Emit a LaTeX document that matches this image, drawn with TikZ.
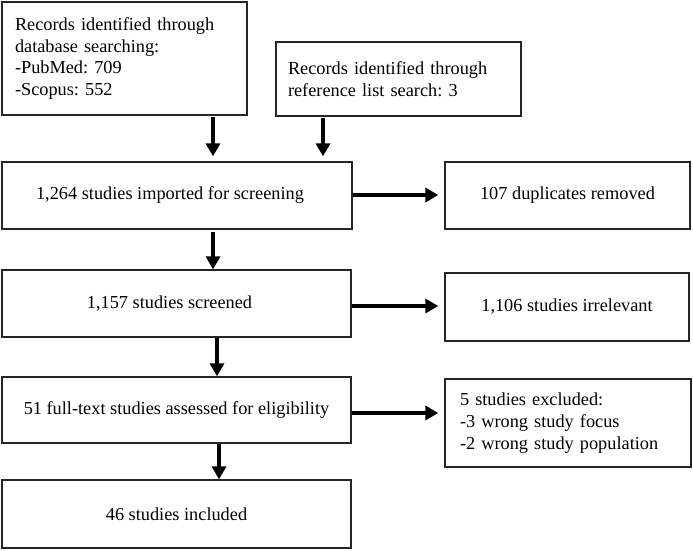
\documentclass[tikz,border=0pt]{standalone}
\usepackage{fontspec}
\setmainfont{Liberation Serif}
\usetikzlibrary{arrows.meta}
\frenchspacing
\begin{document}
\begin{tikzpicture}[x=1pt,y=-1pt,
  box/.style={draw=black!85, line width=1.3pt, rectangle, inner sep=0pt,
    font=\fontsize{18.3}{21.7}\selectfont},
  lbox/.style={box, align=left, inner xsep=13pt},
  arr/.style={line width=4.6pt, -{Triangle[width=14pt,length=13pt]}}]
\useasboundingbox (0,0) rectangle (693,551);
\node[lbox, minimum width=245pt, minimum height=113pt, text width=219pt] (b1) at (124.5,58.5)
  {Records identified through\\database searching:\\-PubMed: 709\\-Scopus: 552};
\node[lbox, minimum width=245pt, minimum height=74pt, text width=221pt, inner xsep=12pt] (b2) at (398.5,79)
  {Records identified through\\reference list search: 3};
\node[box, minimum width=350pt, minimum height=67pt] (b3) at (177,195.5)
  {1,264 studies imported for screening\hspace*{14pt}};
\node[box, minimum width=245pt, minimum height=67pt] (b4) at (567.5,195.5)
  {107 duplicates removed};
\node[box, minimum width=349pt, minimum height=67pt] (b5) at (176.5,303.5)
  {1,157 studies screened\hspace*{14pt}};
\node[box, minimum width=244pt, minimum height=68pt] (b6) at (567,307)
  {1,106 studies irrelevant};
\node[box, minimum width=349pt, minimum height=66pt] (b7) at (176.5,410)
  {51 full-text studies assessed for eligibility};
\node[lbox, minimum width=246pt, minimum height=88pt, text width=216pt, inner xsep=15pt] (b8) at (568,423)
  {5 studies excluded:\\-3 wrong study focus\\-2 wrong study population};
\node[box, minimum width=349pt, minimum height=68pt] (b9) at (176.5,514)
  {46 studies included};
\coordinate (xa) at (213,0);
\coordinate (xb) at (323,0);
\coordinate (xc) at (217,0);
\coordinate (xd) at (219,0);
\coordinate (ya) at (0,195);
\coordinate (yb) at (0,306);
\coordinate (yc) at (0,413);
\draw[arr, shorten <=1pt, shorten >=5pt] (b1.south -| xa) -- (b3.north -| xa);
\draw[arr, shorten <=1pt, shorten >=5pt] (b2.south -| xb) -- (b3.north -| xb);
\draw[arr, shorten >=6pt] (b3.east |- ya) -- (b4.west |- ya);
\draw[arr, shorten <=2pt] (b3.south -| xa) -- (b5.north -| xa);
\draw[arr, shorten >=6pt] (b5.east |- yb) -- (b6.west |- yb);
\draw[arr] (b5.south -| xc) -- (b7.north -| xc);
\draw[arr, shorten >=6pt] (b7.east |- yc) -- (b8.west |- yc);
\draw[arr] (b7.south -| xd) -- (b9.north -| xd);
\end{tikzpicture}
\end{document}
